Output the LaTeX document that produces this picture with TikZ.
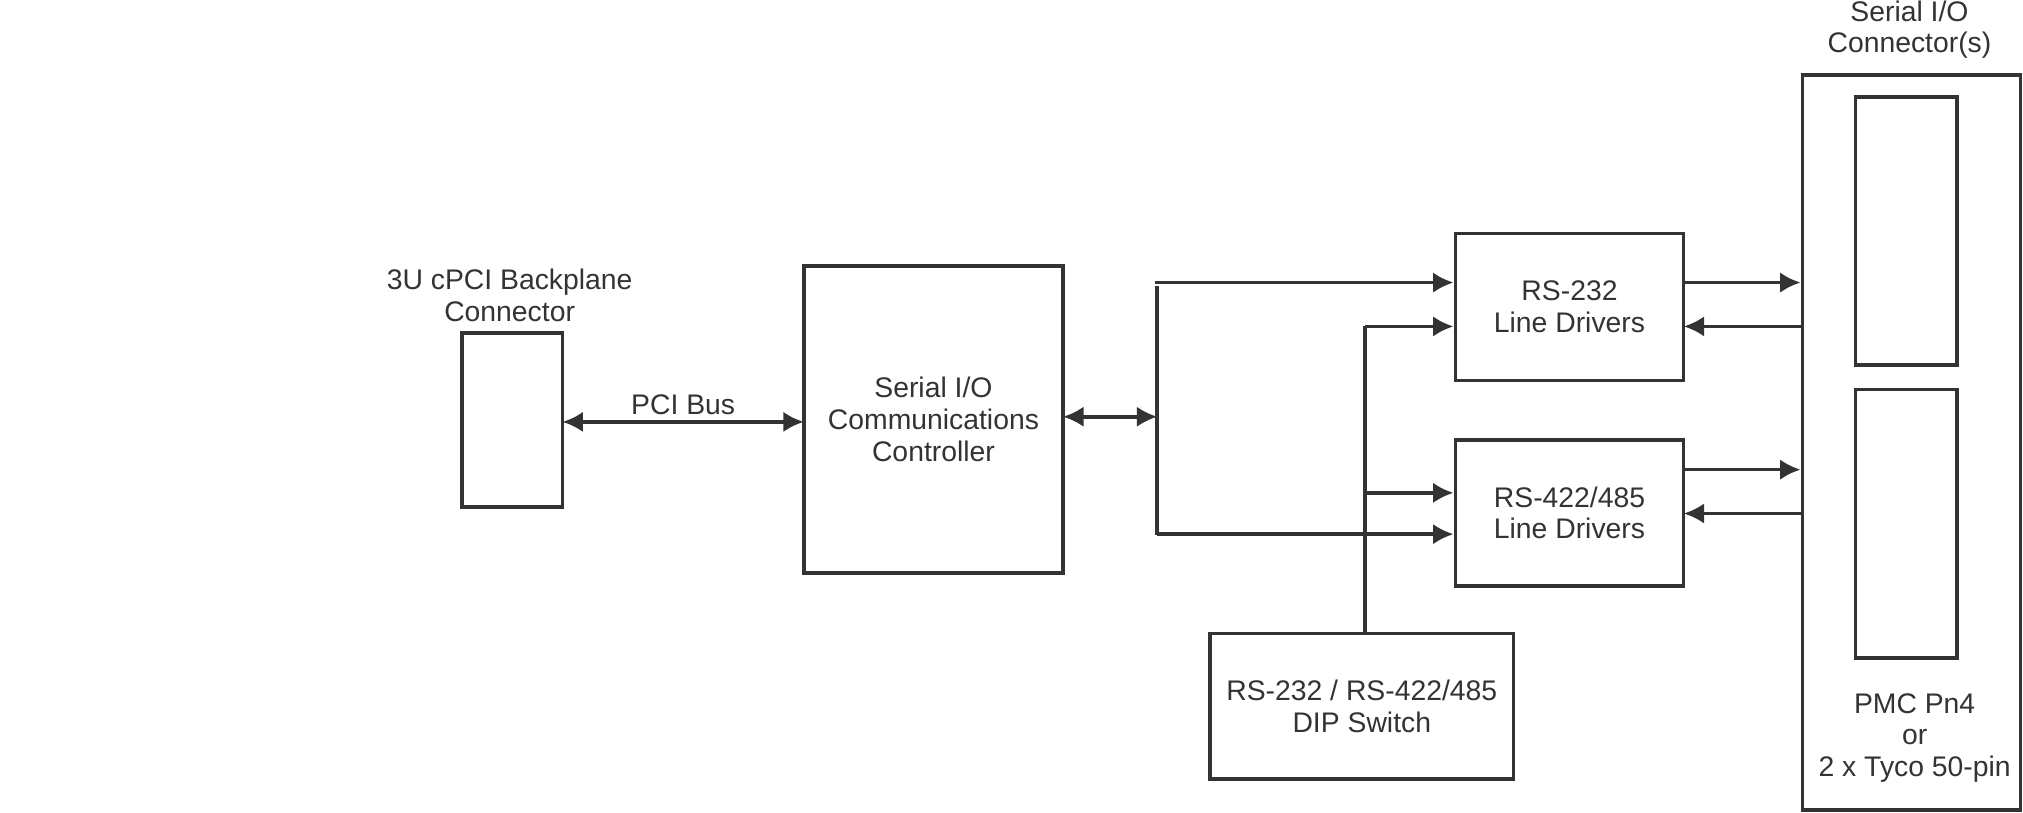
\documentclass[tikz,border=0pt]{standalone}
\usepackage{fontspec}
\setmainfont{Liberation Sans}
\usetikzlibrary{arrows.meta}
\definecolor{ink}{HTML}{333333}
\begin{document}
\begin{tikzpicture}[x=0.02cm,y=-0.02cm,
  box/.style={draw=ink,line width=1.6pt},
  lbl/.style={text=ink,align=center,font=\fontsize{12.5}{14}\selectfont},
  ln/.style={draw=ink,line width=1.6pt},
  ar/.style={ln,-{Latex[length=9pt,width=9pt]}},
  dar/.style={ln,{Latex[length=9pt,width=9pt]}-{Latex[length=9pt,width=9pt]}}]
\useasboundingbox (0,0) rectangle (1568,630);
% backplane
\node[box,minimum width=1.56cm,minimum height=2.7cm,inner sep=0pt] (bp) at (397,325.5) {};
\node[lbl] (bpl) at (395,229) {3U cPCI Backplane\\Connector};
% controller
\node[box,minimum width=4.02cm,minimum height=4.76cm,lbl] (ctl) at (723.5,325) {Serial I/O\\Communications\\Controller};
\draw[dar] (436,327) -- (623,327) node[lbl,midway,above=-1pt] (pci) {PCI Bus};
% bus
\coordinate (bt) at (897,222);
\coordinate (bb) at (897,415);
\coordinate (bm) at (897,323);
\draw[ln] (bt) -- (bb);
\draw[dar] (824,323) -- (bm);
% drivers
\node[box,minimum width=3.54cm,minimum height=2.28cm,lbl] (r232) at (1216.5,238) {RS-232\\Line Drivers};
\node[box,minimum width=3.54cm,minimum height=2.26cm,lbl] (r422) at (1216.5,397.5) {RS-422/485\\Line Drivers};
\coordinate (t1) at (895,219);
\coordinate (t2) at (897,414);
\draw[ar] (t1) -- (t1 -| r232.west);
\draw[ar] (t2) -- (t2 -| r422.west);
% DIP
\node[box,minimum width=4.7cm,minimum height=2.26cm,lbl] (dip) at (1055.5,547.5) {RS-232 / RS-422/485\\DIP Switch};
\coordinate (d1) at (1058,253);
\coordinate (d2) at (1058,382);
\draw[ln] (dip.north -| d1) -- (d1);
\draw[ar] (d1) -- (d1 -| r232.west);
\draw[ar] (d2) -- (d2 -| r422.west);
% connectors
\node[box,minimum width=3.38cm,minimum height=11.4cm,inner sep=0pt] (con) at (1481.5,343) {};
\node[box,minimum width=1.58cm,minimum height=4.16cm,inner sep=0pt] (c1) at (1477.5,179) {};
\node[box,minimum width=1.58cm,minimum height=4.16cm,inner sep=0pt] (c2) at (1477.5,406) {};
\node[lbl] (conl) at (1480,23) {Serial I/O\\Connector(s)};
\node[lbl] (pmc) at (1484,572) {PMC Pn4\\or\\2 x Tyco 50-pin};
\coordinate (a1) at (1305,219);
\coordinate (a2) at (1305,253);
\coordinate (a3) at (1305,364);
\coordinate (a4) at (1305,398);
\draw[ar] (a1) -- (a1 -| con.west);
\draw[ar] (a2 -| con.west) -- (a2);
\draw[ar] (a3) -- (a3 -| con.west);
\draw[ar] (a4 -| con.west) -- (a4);
\end{tikzpicture}
\end{document}
